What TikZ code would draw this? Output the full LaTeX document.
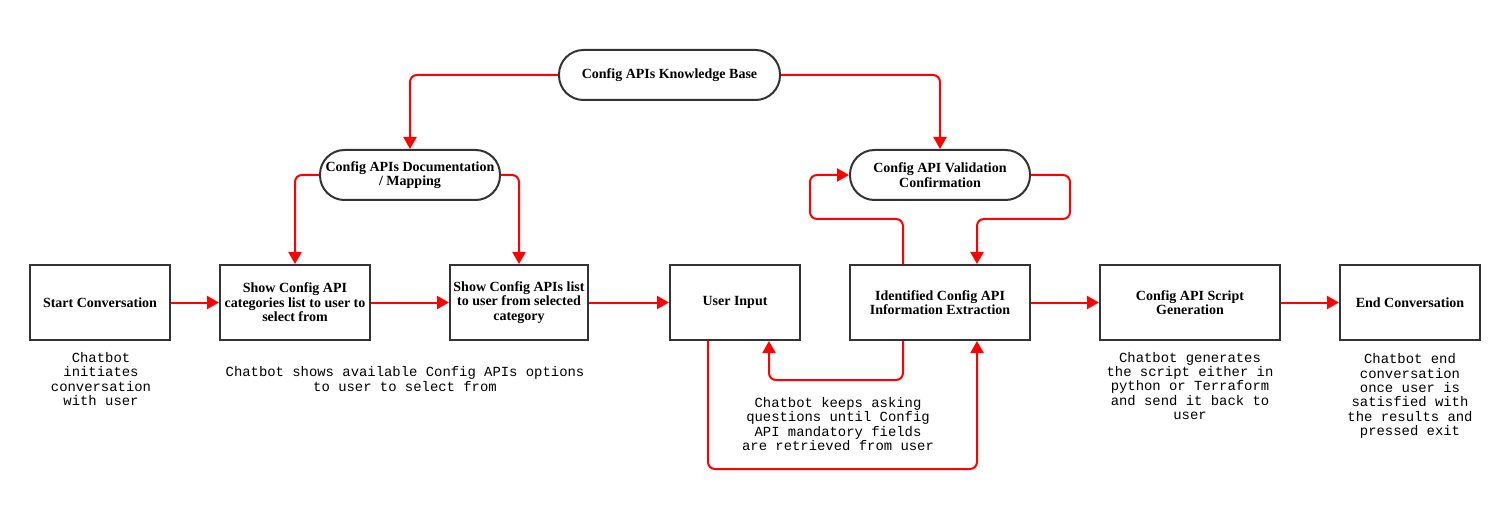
\documentclass[tikz,border=0pt]{standalone}
\usepackage{fontspec}
\setmainfont{Liberation Serif}
\newfontfamily\monof{Liberation Mono}
\usetikzlibrary{arrows.meta}
\definecolor{boxline}{HTML}{333333}
\definecolor{conred}{HTML}{FF0000}
\tikzset{
  procbox/.style={draw=boxline, line width=2pt, fill=white, rectangle, minimum height=75pt, inner sep=0pt, align=center, font=\fontsize{14}{14.4}\selectfont\bfseries},
  termbox/.style={draw=boxline, line width=2pt, fill=white, rectangle, rounded corners=24.5pt, minimum height=50pt, inner sep=0pt, align=center, font=\fontsize{14}{14.4}\selectfont\bfseries},
  note/.style={inner sep=0pt, align=center, font=\monof\fontsize{13.9}{14.3}\selectfont},
  conn/.style={draw=conred, line width=2pt, rounded corners=7pt, -{Triangle[length=12pt,width=13pt]}},
  connplain/.style={draw=conred, line width=2pt, rounded corners=7pt}
}
\begin{document}
\begin{tikzpicture}[x=1pt,y=-1pt]
\useasboundingbox (0,0) rectangle (1500,505);
% process boxes
\node[procbox, minimum width=140pt] (start) at (100,302.5) {Start Conversation};
\node[procbox, minimum width=150pt] (cat) at (295,302.5) {Show Config API\\categories list to user to\\select from};
\node[procbox, minimum width=138pt] (list) at (519,302.5) {Show Config APIs list\\to user from selected\\category};
\node[procbox, minimum width=130pt] (input) at (735,302.5) {User Input\vphantom{A}};
\node[procbox, minimum width=180pt] (ident) at (940,302.5) {Identified Config API\\Information Extraction};
\node[procbox, minimum width=180pt] (script) at (1190,302.5) {Config API Script\\Generation};
\node[procbox, minimum width=140pt] (endc) at (1410,302.5) {End Conversation};
% terminators
\node[termbox, minimum width=221pt] (kb) at (669.5,75) {Config APIs Knowledge Base};
\node[termbox, minimum width=180pt] (doc) at (410,175) {Config APIs Documentation\\/ Mapping};
\node[termbox, minimum width=180pt] (val) at (940,175) {Config API Validation\\Confirmation};
% notes
\node[note] (n1) at (101,379) {Chatbot\\initiates\\conversation\\with user};
\node[note] (n2) at (405,379) {Chatbot shows available Config APIs options\\to user to select from};
\node[note] (n3) at (838,424) {Chatbot keeps asking\\questions until Config\\API mandatory fields\\are retrieved from user};
\node[note] (n4) at (1190,386) {Chatbot generates\\the script either in\\python or Terraform\\and send it back to\\user};
\node[note] (n5) at (1410,396) {Chatbot end\\conversation\\once user is\\satisfied with\\the results and\\pressed exit};
% waypoints
\coordinate (w1) at (810,219);
\coordinate (w2) at (1070,219);
\coordinate (w3) at (769,380);
\coordinate (w4) at (977,469);
% connectors
\draw[conn] (kb.west) -| (doc.north);
\draw[conn] (kb.east) -| (val.north);
\draw[conn] (doc.west) -| (cat.north);
\draw[conn] (doc.east) -| (list.north);
\draw[conn] (start.east) -- (cat.west);
\draw[conn] (cat.east) -- (list.west);
\draw[conn] (list.east) -- (input.west);
\draw[conn] (ident.east) -- (script.west);
\draw[conn] (script.east) -- (endc.west);
\draw[conn] ([xshift=-37pt]ident.north) |- (w1) |- (val.west);
\draw[conn] (val.east) -| (w2) -| ([xshift=37pt]ident.north);
\draw[conn] ([xshift=-37pt]ident.south) |- (w3) -- ([xshift=34pt]input.south);
\draw[conn] ([xshift=-27pt]input.south) |- (w4) -- ([xshift=37pt]ident.south);
\end{tikzpicture}
\end{document}
